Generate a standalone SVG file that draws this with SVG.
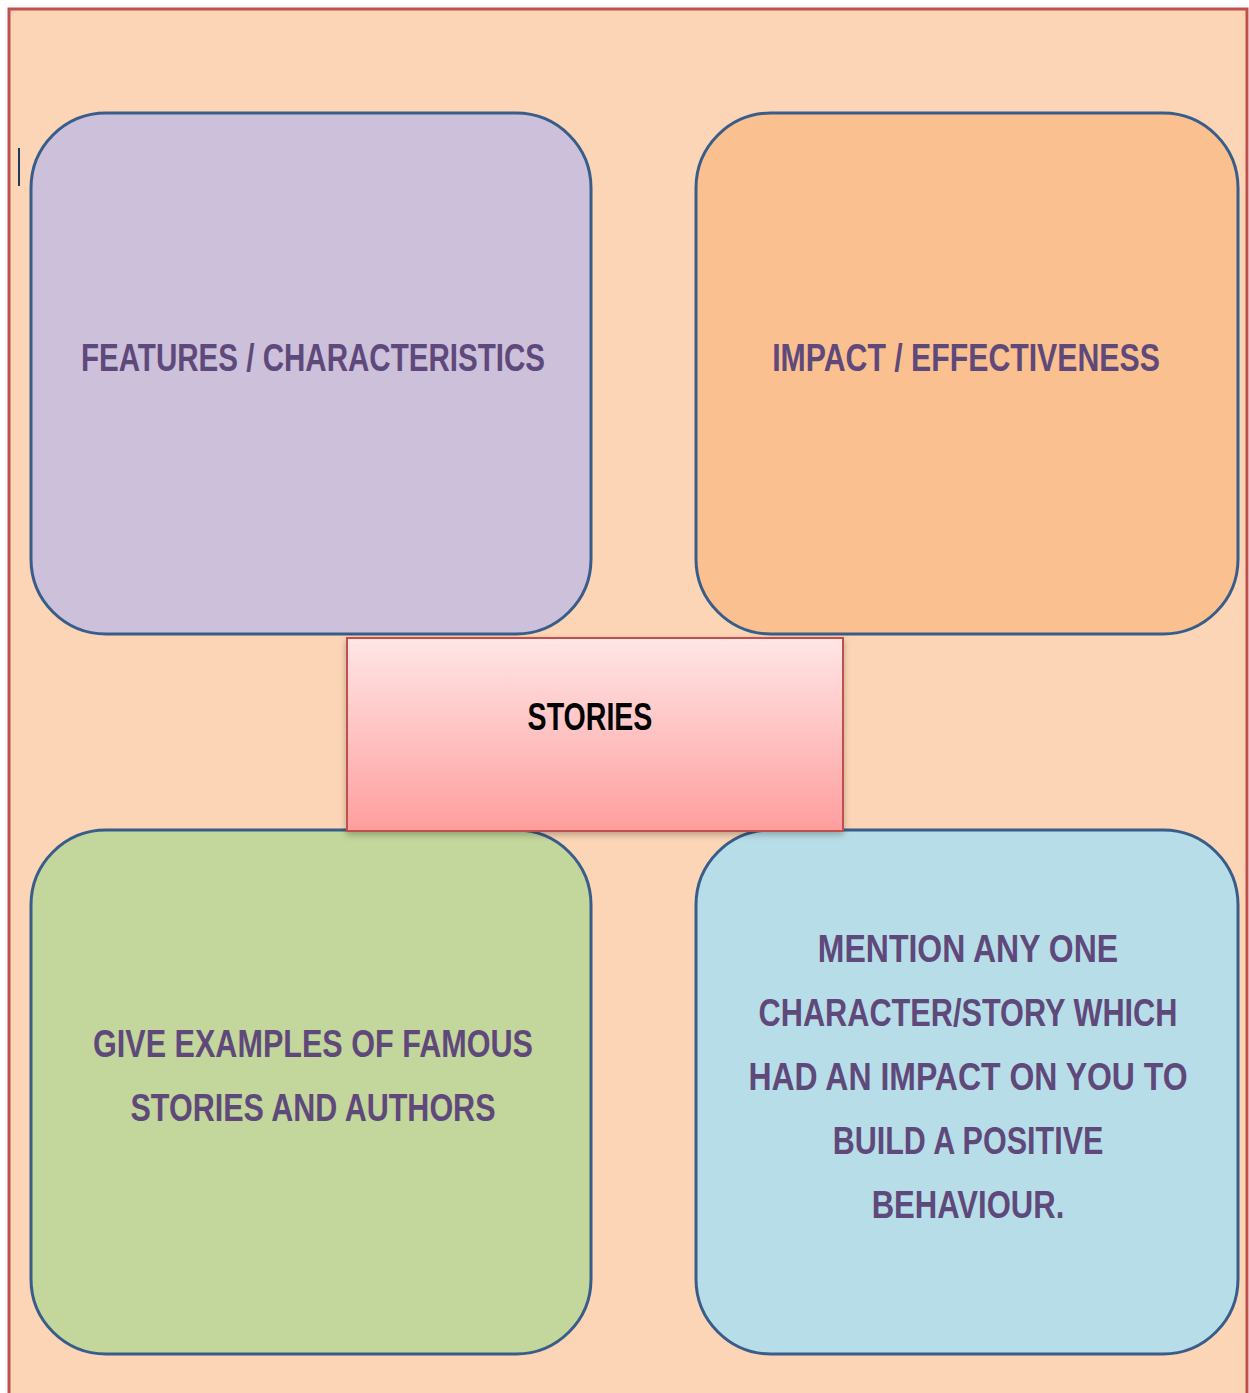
<svg xmlns="http://www.w3.org/2000/svg" width="1249" height="1393" viewBox="0 0 1249 1393">
  <defs>
    <style>
      .box { stroke: #385D8A; stroke-width: 3; }
      .lbl { font-family: "Liberation Sans", Arial, sans-serif; font-weight: bold; font-size: 39px; fill: #5F497A; text-anchor: middle; }
      .center-lbl { font-family: "Liberation Sans", Arial, sans-serif; font-weight: bold; font-size: 39px; fill: #000000; text-anchor: middle; }
    </style>
    <linearGradient id="pinkGrad" x1="0" y1="0" x2="0" y2="1">
      <stop offset="0" stop-color="#FFE6E6"/>
      <stop offset="1" stop-color="#FF9E9E"/>
    </linearGradient>
    <filter id="shadow" x="-5%" y="-5%" width="110%" height="115%">
      <feDropShadow dx="0" dy="3" stdDeviation="3" flood-color="#000000" flood-opacity="0.25"/>
    </filter>
  </defs>

  <rect x="0" y="0" width="1249" height="1393" fill="#FFFFFF"/>
  <rect x="9" y="9" width="1238" height="1400" fill="#FBD5B5" stroke="#C0504D" stroke-width="3"/>
  <line x1="19" y1="148" x2="19" y2="186" stroke="#1F3A5A" stroke-width="2"/>

  <g id="connectors"></g>

  <g id="features">
    <rect class="box" x="31" y="113" width="560" height="521" rx="75" ry="75" fill="#CCC0DA"/>
    <text class="lbl" transform="translate(313,371) scale(0.78,1)" x="0" y="0" textLength="595" lengthAdjust="spacingAndGlyphs">FEATURES / CHARACTERISTICS</text>
  </g>

  <g id="impact">
    <rect class="box" x="696" y="113" width="542" height="521" rx="75" ry="75" fill="#FAC090"/>
    <text class="lbl" transform="translate(966,371) scale(0.78,1)" x="0" y="0" textLength="497" lengthAdjust="spacingAndGlyphs">IMPACT / EFFECTIVENESS</text>
  </g>

  <g id="examples">
    <rect class="box" x="31" y="830" width="560" height="524" rx="75" ry="75" fill="#C3D69B"/>
    <text class="lbl" transform="translate(313,1057) scale(0.78,1)" x="0" y="0" textLength="564" lengthAdjust="spacingAndGlyphs">GIVE EXAMPLES OF FAMOUS</text>
    <text class="lbl" transform="translate(313,1121) scale(0.78,1)" x="0" y="0" textLength="468" lengthAdjust="spacingAndGlyphs">STORIES AND AUTHORS</text>
  </g>

  <g id="mention">
    <rect class="box" x="696" y="830" width="542" height="524" rx="75" ry="75" fill="#B7DEE8"/>
    <text class="lbl" transform="translate(968,962) scale(0.78,1)" x="0" y="0" textLength="385" lengthAdjust="spacingAndGlyphs">MENTION ANY ONE</text>
    <text class="lbl" transform="translate(968,1026) scale(0.78,1)" x="0" y="0" textLength="537" lengthAdjust="spacingAndGlyphs">CHARACTER/STORY WHICH</text>
    <text class="lbl" transform="translate(968,1090) scale(0.78,1)" x="0" y="0" textLength="563" lengthAdjust="spacingAndGlyphs">HAD AN IMPACT ON YOU TO</text>
    <text class="lbl" transform="translate(968,1154) scale(0.78,1)" x="0" y="0" textLength="347" lengthAdjust="spacingAndGlyphs">BUILD A POSITIVE</text>
    <text class="lbl" transform="translate(968,1218) scale(0.78,1)" x="0" y="0" textLength="247" lengthAdjust="spacingAndGlyphs">BEHAVIOUR.</text>
  </g>

  <g id="stories">
    <rect x="347" y="638" width="496" height="193" fill="url(#pinkGrad)" stroke="#C0504D" stroke-width="2" filter="url(#shadow)"/>
    <text class="center-lbl" transform="translate(590,730) scale(0.78,1)" x="0" y="0" textLength="160" lengthAdjust="spacingAndGlyphs">STORIES</text>
  </g>
</svg>
